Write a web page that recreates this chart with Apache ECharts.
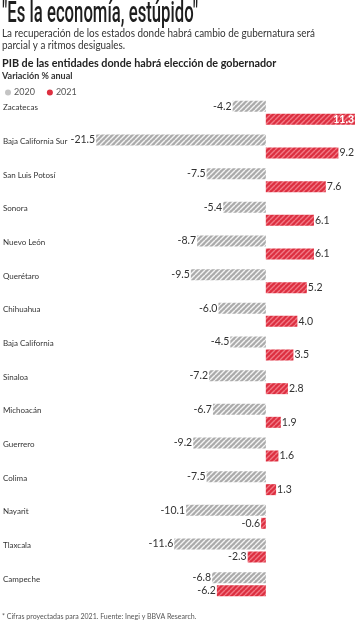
<!DOCTYPE html>
<html><head><meta charset="utf-8">
<script src="https://cdn.jsdelivr.net/npm/echarts@6/dist/echarts.min.js"></script>
<style>html,body{margin:0;padding:0;background:#fff}#c{width:355px;height:620px}</style>
</head><body><div id="c"></div>
<script>
const categories = ["Zacatecas","Baja California Sur","San Luis Potosí","Sonora","Nuevo León","Querétaro","Chihuahua","Baja California","Sinaloa","Michoacán","Guerrero","Colima","Nayarit","Tlaxcala","Campeche"];
const values2020 = [-4.2,-21.5,-7.5,-5.4,-8.7,-9.5,-6.0,-4.5,-7.2,-6.7,-9.2,-7.5,-10.1,-11.6,-6.8];
const values2021 = [11.3,9.2,7.6,6.1,6.1,5.2,4.0,3.5,2.8,1.9,1.6,1.3,-0.6,-2.3,-6.2];
const seriesNames = ["2020","2021"];

function stripes(base, line){
  const s = 5, c = document.createElement('canvas');
  c.width = s; c.height = s;
  const g = c.getContext('2d');
  g.fillStyle = base; g.fillRect(0,0,s,s);
  g.strokeStyle = line; g.lineWidth = 1.4; g.beginPath();
  for (let k=-1;k<=1;k++){ g.moveTo(k*s, s); g.lineTo(k*s+s, 0); }
  g.stroke();
  return {image: c, repeat: 'repeat'};
}
const GRAY = '#ababab', RED = '#dd2f40';
const grayPat = stripes(GRAY, '#f4f4f4');
const redPat = stripes(RED, '#f07a86');

function items(arr){
  const mx = Math.max(...arr);
  return arr.map(v => {
    let pos = v < 0 ? 'left' : 'right', color = '#333', fw = 'normal';
    if (v === mx && v > 11) { pos = 'insideRight'; color = '#fff'; fw = 'bold'; }
    return {value: v, label: {position: pos, color: color, fontWeight: fw}};
  });
}
const fmt = p => p.value.toFixed(1);

const chart = echarts.init(document.getElementById('c'));

function fitScale(text, font, target){
  const g = document.createElement('canvas').getContext('2d');
  g.font = font; return target / g.measureText(text).width;
}
const titleText = '"Es la economía, estúpido"';
const titleFont = '500 30px Roboto';
const tScale = fitScale(titleText, titleFont, 196);
const sub1 = 'La recuperación de los estados donde habrá cambio de gubernatura será';
const subFont = '11px Lato';
const sScale = fitScale(sub1, subFont, 313);

chart.setOption({
  animation: false,
  textStyle: {fontFamily: 'Lato'},
  graphic: [
    {type:'text', left: 2, top: -1, scaleX: tScale, originX: 0, style:{text: titleText, font: titleFont, fill:'#1e1e1e'}},
    {type:'text', left: 2, top: 28, scaleX: sScale, originX: 0, style:{text: sub1 + '\nparcial y a ritmos desiguales.', font: subFont, lineHeight: 11.5, fill:'#333'}},
    {type:'text', left: 2, top: 58, style:{text:'PIB de las entidades donde habrá elección de gobernador', font:'bold 10.8px Lato', fill:'#222'}},
    {type:'text', left: 2, top: 72, style:{text:'Variación % anual', font:'bold 9px Lato', fill:'#333'}},
    {type:'text', left: 2, bottom: 0, style:{text:'* Cifras proyectadas para 2021. Fuente: Inegi y BBVA Research.', font:'7px Lato', fill:'#555'}}
  ],
  legend: {
    left: 0, top: 83, icon: 'circle', itemWidth: 6, itemHeight: 6, itemGap: 12,
    textStyle: {fontSize: 9, color: '#555', fontFamily: 'Lato', padding: [0,0,0,-2]},
    data: [{name: seriesNames[0], itemStyle:{color:'#c4c4c4'}}, {name: seriesNames[1], itemStyle:{color:RED}}]
  },
  grid: {left: 2, right: 0, top: 96, height: 505, containLabel: false},
  xAxis: {type: 'value', min: -33.3, max: 11.3, show: false, splitLine:{show:false}},
  yAxis: {type: 'category', data: categories, inverse: true,
    axisLine:{show:false}, axisTick:{show:false},
    axisLabel:{inside: true, margin: 0, align: 'left', verticalAlign: 'bottom', fontSize: 8, color:'#333', fontFamily:'Lato', padding:[0,0,1,0]}},
  series: [
    {name: seriesNames[0], type:'bar', data: items(values2020), barWidth: 11, barGap: '18%',
     itemStyle:{color: grayPat}, label:{show:true, formatter: fmt, fontSize: 10.5, distance: 1, fontFamily:'Lato'}},
    {name: seriesNames[1], type:'bar', data: items(values2021), barWidth: 11,
     itemStyle:{color: redPat}, label:{show:true, formatter: fmt, fontSize: 10.5, distance: 1, fontFamily:'Lato'}}
  ]
});
</script></body></html>
